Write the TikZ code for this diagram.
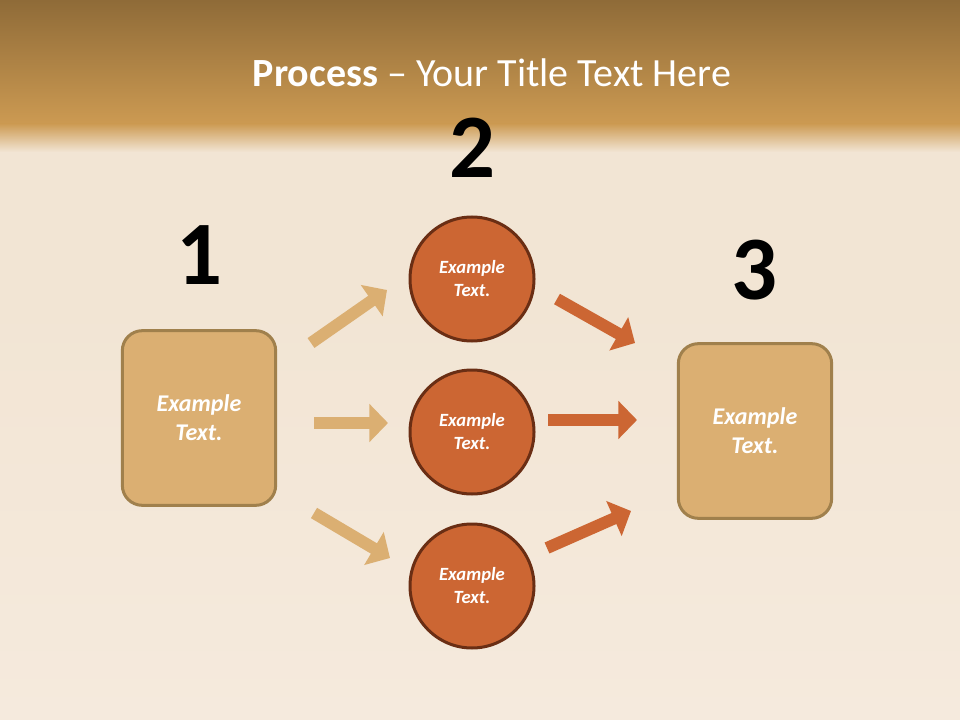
\documentclass[tikz,border=0pt]{standalone}
\usepackage{fontspec}
\setmainfont{Carlito}
\usetikzlibrary{arrows.meta}

\definecolor{topdark}{HTML}{8F6B38}
\definecolor{topmid}{HTML}{CC9A52}
\definecolor{woodlight}{HTML}{F2E5D4}
\definecolor{woodpale}{HTML}{F5EADD}
\definecolor{boxfill}{HTML}{DBAF72}
\definecolor{boxline}{HTML}{A0804C}
\definecolor{circfill}{HTML}{CC6633}
\definecolor{circline}{HTML}{6A2E14}

\tikzset{every picture/.style={line width=0.75pt}}
\tikzset{
  stepbox/.style={draw=boxline, fill=boxfill, line width=2.25pt, rounded corners=15pt,
    minimum width=115pt, minimum height=131pt, inner sep=0pt, align=center, text=white,
    font=\fontsize{18}{21.75}\selectfont\bfseries\itshape},
  stepcirc/.style={circle, draw=circline, fill=circfill, line width=2.25pt,
    minimum size=93pt, inner sep=0pt, align=center, text=white,
    font=\fontsize{14}{17.25}\selectfont\bfseries\itshape},
  stepnum/.style={anchor=base, inner sep=0pt, font=\fontsize{68}{68}\selectfont\bfseries},
  tanarrow/.style={draw=boxfill, line width=9pt, -{Triangle[length=14pt,width=28pt]}},
  redarrow/.style={draw=circfill, line width=9pt, -{Triangle[length=14pt,width=28pt]}}
}

\begin{document}
\begin{tikzpicture}[x=0.75pt,y=0.75pt,yscale=-1,xscale=1]
\path[use as bounding box] (0,0) rectangle (960,720);

%Background
\fill[woodlight] (0,0) rectangle (960,720);
\shade[top color=woodlight, bottom color=woodpale] (0,300) rectangle (960,720);
\shade[top color=topdark, bottom color=topmid] (0,0) rectangle (960,124);
\shade[top color=topmid, bottom color=woodlight] (0,123.5) rectangle (960,152);

% Title
\node (title) at (492,87) [anchor=base, inner sep=0pt, text=white, font=\fontsize{30}{36}\selectfont]
  {\textbf{Process} -- Your Title Text Here};

%Shape: Rounded Rect
\node (box1) at (199,418) [stepbox] {Example\\Text.};
\node (box3) at (755,431) [stepbox] {Example\\Text.};

%Shape: Circle
\node (c1) at (472,279) [stepcirc] {Example\\Text.};
\node (c2) at (472,432) [stepcirc] {Example\\Text.};
\node (c3) at (472,586) [stepcirc] {Example\\Text.};

% Text Node
\node (n1) at (199,285) [stepnum] {1};
\node (n2) at (472,178) [stepnum] {2};
\node (n3) at (754,300) [stepnum] {3};

%Arrow ends
\coordinate (la) at (311,343);
\coordinate (lb) at (387,290);
\coordinate (lc) at (314,423);
\coordinate (ld) at (388,423);
\coordinate (le) at (314,513);
\coordinate (lf) at (390,558);
\coordinate (ra) at (557,299);
\coordinate (rb) at (635,343);
\coordinate (rc) at (548,420);
\coordinate (rd) at (637,420);
\coordinate (re) at (547,548);
\coordinate (rf) at (631,511);

%Block Arrows
\draw[tanarrow] (la) -- (lb);
\draw[tanarrow] (lc) -- (ld);
\draw[tanarrow] (le) -- (lf);
\draw[redarrow] (ra) -- (rb);
\draw[redarrow] (rc) -- (rd);
\draw[redarrow] (re) -- (rf);

\end{tikzpicture}
\end{document}
